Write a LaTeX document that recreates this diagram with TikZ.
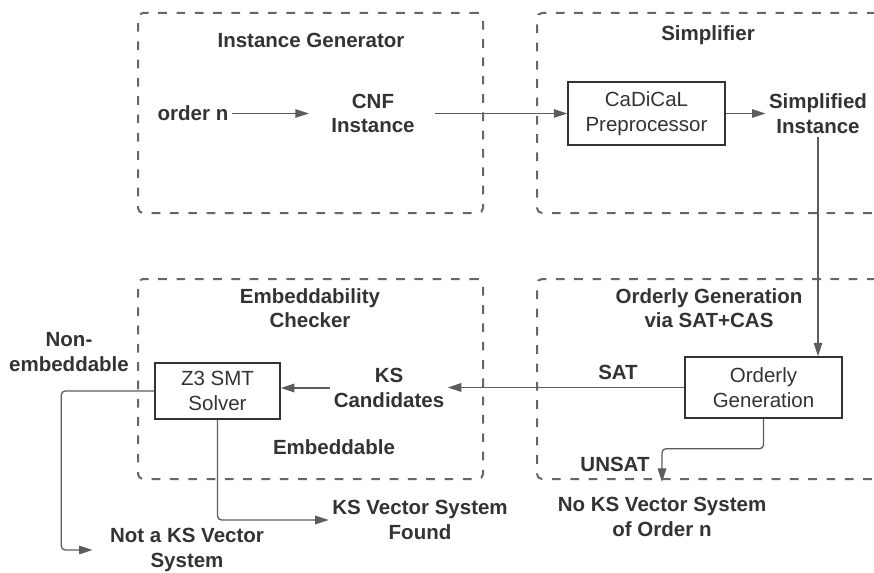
\documentclass[tikz,border=0pt]{standalone}
\usepackage{fontspec}
\setmainfont{Liberation Sans}
\usepackage{xcolor}
\usepackage{tikz}
\usetikzlibrary{arrows.meta,positioning}
\definecolor{txt}{HTML}{333333}
\definecolor{ln}{HTML}{5C5C5C}
\definecolor{dsh}{HTML}{666666}

\begin{document}
\begin{tikzpicture}[x=1pt, y=-1pt,
    every node/.style={text=txt, font=\fontsize{20.5}{24.5}\selectfont, align=center},
    lbl/.style={font=\fontsize{20.5}{24.5}\selectfont\bfseries},
    group/.style={draw=dsh, line width=2pt, dash pattern=on 8.7pt off 9.6pt, rounded corners=5pt},
    proc/.style={draw=txt, line width=1.5pt, inner sep=0pt},
    conn/.style={draw=ln, line width=1.3pt, -{Triangle[length=13.5pt, width=8.5pt]}}]
    \useasboundingbox (0,0) rectangle (874,572);
    \clip (0,0) rectangle (874,572);

    % dashed groups
    \node(genBox) at (310.5,113) [group, minimum width=345pt, minimum height=200pt] {};
    \node(simBox) at (718,113) [group, minimum width=362pt, minimum height=200pt] {};
    \node(embBox) at (310.5,379) [group, minimum width=345pt, minimum height=200pt] {};
    \node(ordBox) at (718,379) [group, minimum width=362pt, minimum height=200pt] {};

    \node(genT) at (311,40) [lbl] {Instance Generator};
    \node(simT) at (708,35) [lbl] {Simplifier};
    \node(embT) at (310,308) [lbl] {Embeddability\\Checker};
    \node(ordT) at (709,308) [lbl] {Orderly Generation\\via SAT+CAS};

    % top row
    \node(cnf) at (373,113.5) [lbl] {CNF\\Instance};
    \node(order) at (193,113.5) [lbl] {order n}
      edge [conn, shorten >=19pt] (cnf)
      ;
    \node(cad) at (646.5,113.5) [proc, minimum width=157pt, minimum height=63pt] {CaDiCaL\\Preprocessor};
    \node(simp) at (818,113.5) [lbl] {Simplified\\Instance};
    \draw[conn, shorten <=17pt] (cnf) -- (cad);
    \draw[conn] (cad) -- (simp);

    % bottom row
    \node(ord) at (763.5,387.5) [proc, minimum width=157pt, minimum height=61pt] {Orderly\\Generation};
    \draw[conn] (simp.south) -- (simp.south |- ord.north);
    \node(ksc) at (389,388) [lbl] {KS\\Candidates};
    \node(sat) at (618,372) [lbl] {SAT};
    \draw[conn] (ord.west) -- (ord.west -| ksc.east);
    \node(z3) at (217.5,391) [proc, minimum width=125pt, minimum height=56pt] {Z3 SMT\\Solver};
    \draw[conn] (ksc.west) -- (ksc.west -| z3.east);
    \node(emb) at (334,447) [lbl] {Embeddable};
    \node(found) at (420,520) [lbl] {KS Vector System\\Found};
    \draw[conn, rounded corners=4pt] (z3.south) |- (found.west);
    \node(nonemb) at (69,352) [lbl] {Non-\\embeddable};
    \node(notks) at (187,550) [lbl] {Not a KS Vector\\System};
    \draw[conn, rounded corners=4pt, shorten >=14pt] (z3.west) -- ++(-93,0) |- (notks.west);
    \node(unsat) at (615,464) [lbl] {UNSAT};
    \node(nokss) at (662,517) [lbl] {No KS Vector System\\of Order n};
    \draw[conn, rounded corners=4pt, shorten >=12pt] (ord.south) -- ++(0,30) -| (nokss.north);
  \end{tikzpicture}
\end{document}
